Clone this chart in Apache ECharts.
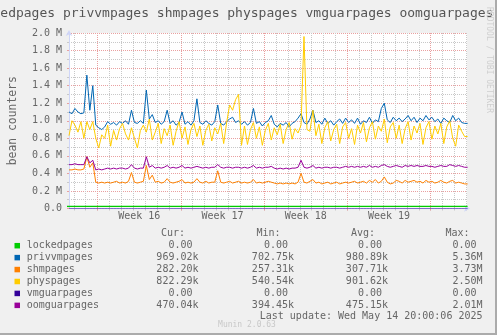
<!DOCTYPE html>
<html><head><meta charset="utf-8">
<script src="https://cdn.jsdelivr.net/npm/echarts@6/dist/echarts.min.js"></script>
<style>html,body{margin:0;padding:0;background:#f0f0f0;}#c{width:497px;height:335px;}</style>
</head><body><div id="c"></div><script>
// ---- data (values in millions of pages), one sample every 6 hours ----
const tMin = -2.4;          // days relative to Monday 00:00 of week 16
const tMax = 31.05;
const tStep = 0.25;
const weekLabels = ['Week 16', 'Week 17', 'Week 18', 'Week 19'];
const weekMid = [3.5, 10.5, 17.5, 24.5];
const weekStarts = [0, 7, 14, 21, 28];

const lockedpages = [
0,0,0,0,0,0,0,0,0,0, 0,0,0,0,0,0,0,0,0,0, 0,0,0,0,0,0,0,0,0,0, 0,0,0,0,0,0,0,0,0,0,
0,0,0,0,0,0,0,0,0,0, 0,0,0,0,0,0,0,0,0,0, 0,0,0,0,0,0,0,0,0,0, 0,0,0,0,0,0,0,0,0,0,
0,0,0,0,0,0,0,0,0,0, 0,0,0,0,0,0,0,0,0,0, 0,0,0,0,0,0,0,0,0,0, 0,0,0,0,0,0,0,0,0,0,
0,0,0,0,0,0,0,0,0,0, 0,0,0,0,0];
const privvmpages = [
1.10,1.08,1.14,1.10,1.08,1.09,1.52,1.12,1.40,0.95,
0.92,0.90,0.93,0.99,0.96,0.98,0.95,0.99,0.97,1.00,
0.96,1.12,0.98,0.97,1.00,0.97,1.35,1.02,1.07,0.98,
1.00,0.96,0.99,1.12,0.97,1.00,0.95,0.98,1.10,0.96,
0.99,0.95,1.00,1.25,0.98,0.96,1.00,0.97,0.95,0.99,
1.18,0.97,0.95,0.99,1.02,1.04,0.98,1.00,0.96,0.99,
0.95,0.98,1.14,0.97,0.99,0.94,0.98,1.00,1.06,0.96,
0.93,0.97,0.95,0.98,0.93,0.97,0.99,1.03,1.08,0.98,
0.96,1.02,1.12,0.98,1.00,0.96,1.03,0.97,1.00,0.95,
0.99,1.02,0.97,1.03,0.98,1.01,0.97,1.03,0.96,1.00,
0.98,1.04,0.97,1.01,0.99,1.14,1.20,1.01,0.98,1.04,
1.00,1.03,0.99,1.02,1.06,1.00,1.04,0.98,1.03,1.00,
1.06,1.01,1.04,0.99,1.02,0.97,1.03,1.00,0.98,1.06,
1.00,1.03,0.98,0.97,0.97];
const shmpages = [
0.44,0.44,0.45,0.44,0.44,0.45,0.59,0.47,0.52,0.30,
0.29,0.30,0.29,0.30,0.29,0.30,0.31,0.29,0.30,0.29,
0.31,0.41,0.30,0.29,0.30,0.31,0.49,0.33,0.38,0.30,
0.31,0.29,0.30,0.34,0.30,0.29,0.30,0.31,0.33,0.29,
0.30,0.29,0.30,0.34,0.30,0.29,0.31,0.29,0.30,0.30,
0.43,0.30,0.29,0.30,0.31,0.29,0.30,0.31,0.29,0.30,
0.29,0.30,0.33,0.29,0.30,0.29,0.30,0.31,0.30,0.29,
0.28,0.29,0.28,0.29,0.28,0.29,0.28,0.30,0.40,0.30,
0.29,0.31,0.33,0.29,0.30,0.28,0.29,0.30,0.28,0.29,
0.30,0.28,0.29,0.30,0.29,0.30,0.31,0.29,0.30,0.31,
0.29,0.32,0.30,0.33,0.29,0.31,0.36,0.30,0.28,0.29,
0.32,0.31,0.29,0.32,0.30,0.31,0.32,0.30,0.31,0.29,
0.32,0.30,0.31,0.29,0.30,0.32,0.30,0.29,0.31,0.32,
0.29,0.30,0.29,0.28,0.28];
const physpages = [
0.83,1.00,0.95,0.87,0.99,0.80,0.99,0.90,0.99,0.80,
0.69,0.84,0.80,0.95,0.71,0.89,0.78,0.91,0.97,0.85,
0.78,0.92,0.80,0.69,0.89,0.95,0.87,1.02,0.78,0.87,
0.97,0.74,0.91,0.83,0.95,0.72,0.88,0.99,0.80,0.93,
0.73,0.90,0.97,0.82,0.94,0.72,0.89,0.96,0.77,0.92,
0.85,0.97,0.74,0.98,1.18,1.12,1.24,1.30,0.72,0.94,
0.73,0.90,0.98,0.80,0.93,0.72,0.89,0.97,0.78,0.92,
0.84,0.96,0.74,0.90,0.98,0.79,0.91,0.86,0.95,1.96,
0.90,0.88,1.12,0.83,0.96,0.74,0.92,0.99,0.77,0.90,
0.96,0.74,0.93,0.98,0.80,0.91,0.73,0.95,0.86,0.98,
0.76,0.92,0.99,0.79,0.94,0.88,1.02,0.75,0.93,0.98,
0.80,0.95,0.74,0.91,0.99,0.78,0.94,0.86,0.97,0.73,
0.92,0.99,0.79,0.94,0.85,0.97,0.74,0.93,1.00,0.80,
0.71,0.95,0.88,0.82,0.82];
const vmguarpages = [
0,0,0,0,0,0,0,0,0,0, 0,0,0,0,0,0,0,0,0,0, 0,0,0,0,0,0,0,0,0,0, 0,0,0,0,0,0,0,0,0,0,
0,0,0,0,0,0,0,0,0,0, 0,0,0,0,0,0,0,0,0,0, 0,0,0,0,0,0,0,0,0,0, 0,0,0,0,0,0,0,0,0,0,
0,0,0,0,0,0,0,0,0,0, 0,0,0,0,0,0,0,0,0,0, 0,0,0,0,0,0,0,0,0,0, 0,0,0,0,0,0,0,0,0,0,
0,0,0,0,0,0,0,0,0,0, 0,0,0,0,0];
const oomguarpages = [
0.50,0.50,0.51,0.50,0.50,0.50,0.59,0.52,0.55,0.44,
0.45,0.44,0.45,0.46,0.45,0.46,0.45,0.46,0.46,0.45,
0.46,0.50,0.46,0.45,0.46,0.46,0.59,0.47,0.49,0.46,
0.47,0.46,0.47,0.49,0.46,0.47,0.46,0.47,0.49,0.46,
0.47,0.46,0.47,0.48,0.47,0.46,0.47,0.46,0.47,0.47,
0.50,0.47,0.46,0.47,0.47,0.46,0.47,0.47,0.46,0.47,
0.46,0.47,0.49,0.46,0.47,0.46,0.47,0.47,0.48,0.46,
0.45,0.46,0.45,0.46,0.45,0.46,0.46,0.47,0.55,0.47,
0.46,0.47,0.49,0.46,0.47,0.46,0.47,0.47,0.46,0.47,
0.47,0.46,0.47,0.48,0.47,0.48,0.47,0.48,0.47,0.48,
0.47,0.49,0.47,0.48,0.47,0.49,0.50,0.48,0.47,0.48,
0.49,0.48,0.47,0.49,0.48,0.49,0.48,0.49,0.48,0.48,
0.49,0.48,0.48,0.47,0.48,0.49,0.48,0.48,0.50,0.49,
0.48,0.49,0.48,0.47,0.47];

const legendNames = ['lockedpages','privvmpages','shmpages','physpages','vmguarpages','oomguarpages'];
const curVals = ['0.00 ','969.02k','282.20k','822.29k','0.00 ','470.04k'];
const minVals = ['0.00 ','702.75k','257.31k','540.54k','0.00 ','394.45k'];
const avgVals = ['0.00 ','980.89k','307.71k','901.62k','0.00 ','475.15k'];
const maxVals = ['0.00 ','5.36M','3.73M','2.50M','0.00 ','2.01M'];
const titleText = 'lockedpages privvmpages shmpages physpages vmguarpages oomguarpages';
const lastUpdate = 'Last update: Wed May 14 20:00:06 2025';
const versionText = 'Munin 2.0.63';

// ---- styles ----
const colors = ['#00cc00','#0066b3','#ff8000','#ffcc00','#330099','#990099'];
const MONO = "'DejaVu Sans Mono', monospace";
const FONT_COLOR = '#666666';
const AXIS_COLOR = '#CFD6F8';
const GRID_GRAY = '#c8c8c8';
const GRID_RED = '#e9a0a0';
const W = 497, H = 335;
const plotLeft = 67, plotRight = 467, plotTop = 33, plotBottom = 208.5;

const dayTicks = [];
for (let d = Math.ceil(tMin); d <= Math.floor(tMax); d++) dayTicks.push(d);

function pairs(vals) { return vals.map((v, i) => [tMin + i * tStep, v]); }

const seriesDefs = [
  {name: 'vmguarpages', vals: vmguarpages, color: colors[4], x: 0, y: 0, width: 1, opacity: 0.5, z: 1},
  {name: 'lockedpages', vals: lockedpages, color: colors[0], x: 2, y: 2, width: 1.5, opacity: 1, z: 3},
  {name: 'privvmpages', vals: privvmpages, color: colors[1], x: 0, y: 0, width: 1, opacity: 1, z: 4},
  {name: 'shmpages', vals: shmpages, color: colors[2], x: 0, y: 0, width: 1, opacity: 1, z: 5},
  {name: 'physpages', vals: physpages, color: colors[3], x: 0, y: 0, width: 1, opacity: 1, z: 6},
  {name: 'oomguarpages', vals: oomguarpages, color: colors[5], x: 0, y: 0, width: 1, opacity: 1, z: 7}
];

const txt = (x, y, text, opts) => Object.assign({
  type: 'text', x: x, y: y, silent: true, z: 10,
  style: Object.assign({text: text, fill: FONT_COLOR, fontFamily: MONO, fontSize: 10,
    align: 'left', verticalAlign: 'middle'}, opts || {})
});

const graphics = [];
graphics.push(txt(-31, 14, titleText, {fontSize: 13, fill: '#555555'}));
graphics.push(Object.assign(txt(489, 60, 'RRDTOOL / TOBI OETIKER', {fontSize: 8, fill: '#cfcfcf', align: 'center'}), {rotation: -Math.PI / 2}));
const colRight = [198.5, 294, 388, 482.5];
const headRight = [185, 280.5, 375, 469.5];
['Cur:', 'Min:', 'Avg:', 'Max:'].forEach((h, k) => graphics.push(txt(headRight[k], 233.3, h, {align: 'right'})));
legendNames.forEach((n, k) => {
  const y = 245.7 + k * 11.93;
  graphics.push({type: 'rect', shape: {x: 14.5, y: y - 2.75, width: 5.5, height: 5.5}, style: {fill: colors[k]}, silent: true, z: 10});
  graphics.push(txt(26.7, y, n));
  [curVals, minVals, avgVals, maxVals].forEach((arr, c) => graphics.push(txt(colRight[c], y, arr[k], {align: 'right'})));
});
graphics.push(txt(482.5, 316.7, lastUpdate, {align: 'right'}));
graphics.push(txt(247, 324.5, versionText, {align: 'center', fontSize: 8, fill: '#c8c8c8'}));
graphics.push({type: 'rect', shape: {x: W - 2, y: 0, width: 2, height: H}, style: {fill: '#ababab'}, silent: true, z: 10});
graphics.push({type: 'rect', shape: {x: 0, y: H - 2, width: W, height: 2}, style: {fill: '#ababab'}, silent: true, z: 10});

const chart = echarts.init(document.getElementById('c'), null, {renderer: 'canvas'});
chart.setOption({
  backgroundColor: '#f0f0f0',
  animation: false,
  grid: [
    {left: plotLeft, right: W - plotRight, top: plotTop, bottom: H - plotBottom, show: true, backgroundColor: '#ffffff', borderWidth: 0},
    {left: plotLeft, right: W - plotRight, top: plotTop - 2, bottom: H - plotBottom + 2, show: false}
  ],
  xAxis: [
    {gridIndex: 0, type: 'value', position: 'bottom', min: tMin, max: tMax,
     axisLine: {show: true, onZero: false, lineStyle: {color: AXIS_COLOR, width: 1}, symbol: ['none', 'arrow'], symbolSize: [5, 6], symbolOffset: [0, 3]},
     axisTick: {show: true, customValues: dayTicks, length: 2, lineStyle: {color: GRID_GRAY}},
     axisLabel: {customValues: weekMid, formatter: v => weekLabels[weekMid.indexOf(v)] || '', color: FONT_COLOR, fontFamily: MONO, fontSize: 10, margin: 3},
     splitLine: {show: true, lineStyle: {color: GRID_GRAY, width: 1, type: [1, 1]}}},
    {gridIndex: 0, type: 'value', position: 'bottom', min: tMin, max: tMax,
     axisLine: {show: false, onZero: false},
     axisTick: {show: true, customValues: weekStarts, length: 2, lineStyle: {color: GRID_RED}},
     axisLabel: {show: false},
     splitLine: {show: true, lineStyle: {color: GRID_RED, width: 1, type: [1, 1]}}},
    {gridIndex: 1, type: 'value', min: tMin, max: tMax, show: false, axisLine: {onZero: false}}
  ],
  yAxis: [
    {gridIndex: 0, type: 'value', position: 'left', min: 0, max: 2, interval: 0.1,
     name: 'bean counters', nameLocation: 'middle', nameRotate: 90, nameGap: 50,
     nameTextStyle: {color: FONT_COLOR, fontFamily: MONO, fontSize: 11.4},
     axisLine: {show: true, onZero: false, lineStyle: {color: AXIS_COLOR, width: 1}, symbol: ['none', 'arrow'], symbolSize: [5, 6], symbolOffset: [0, 3]},
     axisTick: {show: true, length: 2, lineStyle: {color: GRID_GRAY}},
     axisLabel: {color: FONT_COLOR, fontFamily: MONO, fontSize: 10, margin: 7,
       formatter: v => { const t = Math.round(v * 10); if (t % 2) return ''; return t === 0 ? '0.0' : (t / 10).toFixed(1) + ' M'; }},
     splitLine: {show: true, lineStyle: {color: GRID_GRAY, width: 1, type: [1, 1]}}},
    {gridIndex: 0, type: 'value', position: 'left', min: 0, max: 2, interval: 0.2,
     axisLine: {show: false, onZero: false}, axisLabel: {show: false},
     axisTick: {show: true, length: 2, lineStyle: {color: GRID_RED}},
     splitLine: {show: true, lineStyle: {color: GRID_RED, width: 1, type: [1, 1]}}},
    {gridIndex: 1, type: 'value', min: 0, max: 2, show: false, axisLine: {onZero: false}}
  ],
  series: seriesDefs.map(s => ({
    name: s.name, type: 'line', xAxisIndex: s.x, yAxisIndex: s.y, z: s.z,
    data: pairs(s.vals), symbol: 'none', showSymbol: false, silent: true,
    color: s.color, lineStyle: {color: s.color, width: s.width, opacity: s.opacity}
  })),
  graphic: graphics
});
</script></body></html>
